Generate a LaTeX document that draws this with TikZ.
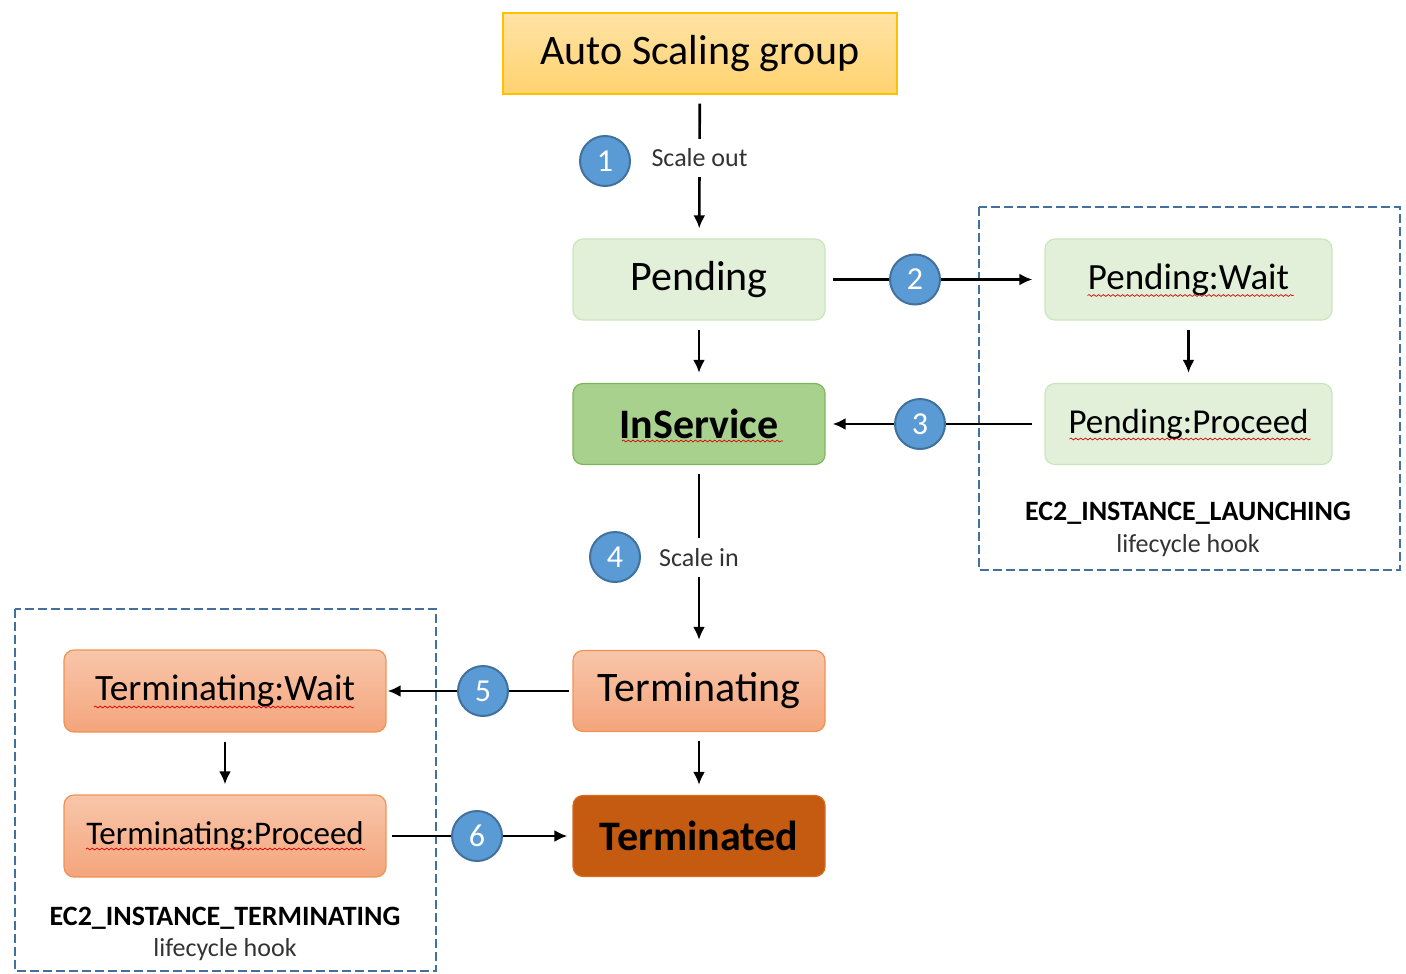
\documentclass[tikz,border=0pt]{standalone}
\usepackage{fontspec}
\setmainfont{Carlito}
\usetikzlibrary{arrows.meta,decorations.pathmorphing}

\definecolor{asgtop}{HTML}{FFE3A6}
\definecolor{asgbot}{HTML}{FFD26E}
\definecolor{asgline}{HTML}{FFC000}
\definecolor{launchfill}{HTML}{E2F0D9}
\definecolor{launchline}{HTML}{CBE4BA}
\definecolor{insfill}{HTML}{A9D18E}
\definecolor{insline}{HTML}{7DB55A}
\definecolor{termtop}{HTML}{F8C6AA}
\definecolor{termbot}{HTML}{F4A57C}
\definecolor{termline}{HTML}{F09253}
\definecolor{deadfill}{HTML}{C55A11}
\definecolor{deadline}{HTML}{DA6A1E}
\definecolor{numfill}{HTML}{5B9BD5}
\definecolor{numline}{HTML}{41719C}
\definecolor{hookline}{HTML}{41719C}

\tikzset{>={Latex[length=6.5pt,width=6pt]}}

\begin{document}
\begin{tikzpicture}[x=0.5pt,y=-0.5pt,
    state/.style={draw, rounded corners=5pt, line width=0.6pt, inner sep=0pt,
      minimum width=126pt, minimum height=40.5pt, font=\fontsize{21}{25}\selectfont},
    asgbox/.style={state, rounded corners=0pt, minimum width=197pt, draw=asgline,
      top color=asgtop, bottom color=asgbot},
    launch/.style={state, fill=launchfill, draw=launchline},
    inservice/.style={state, fill=insfill, draw=insline},
    leaving/.style={state, top color=termtop, bottom color=termbot, draw=termline},
    gone/.style={state, fill=deadfill, draw=deadline},
    hookstate/.style={minimum width=143.5pt},
    termhook/.style={minimum width=161pt, minimum height=41pt},
    flow/.style={->, line width=1.3pt, shorten >=5pt, shorten <=4.5pt},
    flowlabel/.style={fill=white, inner sep=5pt, text=black!80, font=\fontsize{13}{15}\selectfont},
    stepnum/.style={circle, fill=numfill, draw=numline, line width=1pt, minimum size=25pt,
      inner sep=0pt, text=white, font=\fontsize{16}{18}\selectfont},
    hookarea/.style={draw=hookline, line width=1.2pt, dash pattern=on 4.5pt off 2pt},
    hookname/.style={font=\bfseries\fontsize{14}{16}\selectfont},
    hooksub/.style={text=black!80, font=\fontsize{13}{15}\selectfont},
    squiggle/.style={draw=red!85!black, line width=0.35pt,
      decorate, decoration={snake, amplitude=0.45pt, segment length=2.4pt}}
  ]

  \useasboundingbox (0,0) rectangle (1406,973);

  % lifecycle hook areas
  \draw[hookarea] (979,207) rectangle (1400,570);
  \draw[hookarea] (15,609) rectangle (436,971);

  % states
  \node[asgbox] (asg) at (700,53.5) {Auto Scaling group};
  \node[launch] (pend) at (699,279.5) {Pending};
  \node[inservice] (ins) at (699,424) {\textbf{InService}};
  \node[launch, hookstate, font=\fontsize{18.5}{22}\selectfont] (pw) at (1188.5,279.5) {Pending:Wait};
  \node[launch, hookstate, font=\fontsize{17.5}{21}\selectfont] (pp) at (1188.5,424) {Pending:Proceed};
  \node[leaving] (term) at (699,691) {Terminating};
  \node[gone] (dead) at (699,836) {\textbf{Terminated}};
  \node[leaving, termhook, font=\fontsize{18.6}{22}\selectfont] (tw) at (225,691) {Terminating:Wait};
  \node[leaving, termhook, font=\fontsize{16.5}{20}\selectfont] (tp) at (225,836) {Terminating:Proceed};

  % transitions
  \draw[flow] (asg) -- node[flowlabel, pos=0.44] (out) {Scale out} (pend);
  \draw[flow] (pend) -- (ins);
  \draw[flow, shorten <=3.5pt, shorten >=6pt] (pend) -- (pw);
  \draw[flow] (pw) -- (pp);
  \draw[flow, shorten <=6pt, shorten >=3.5pt] (pp) -- (ins);
  \draw[flow] (ins) -- node[flowlabel] (in) {Scale in} (term);
  \draw[flow, shorten <=1.5pt, shorten >=0.5pt] (term) -- (tw);
  \draw[flow] (tw) -- (tp);
  \draw[flow, shorten <=2.5pt, shorten >=2.5pt] (tp) -- (dead);
  \draw[flow] (term) -- (dead);

  % step numbers
  \node[stepnum] (n1) at (605,161) {1};
  \node[stepnum] (n2) at (915,279.5) {2};
  \node[stepnum] (n3) at (920,424) {3};
  \node[stepnum] (n4) at (615,557) {4};
  \node[stepnum] (n5) at (483,691) {5};
  \node[stepnum] (n6) at (477,836) {6};

  % hook names
  \node[hookname] (lname) at (1188,513) {EC2\_INSTANCE\_LAUNCHING};
  \node[hooksub] (lsub) at (1188,546) {lifecycle hook};
  \node[hookname] (tname) at (225,918) {EC2\_INSTANCE\_TERMINATING};
  \node[hooksub] (tsub) at (225,950) {lifecycle hook};

  % spell check marks
  \draw[squiggle] ([shift={(-101,16)}]pw.center) -- ++(206,0);
  \draw[squiggle] ([shift={(-119,15)}]pp.center) -- ++(241,0);
  \draw[squiggle] ([shift={(-77,17)}]ins.center) -- ++(161,0);
  \draw[squiggle] ([shift={(-131,16)}]tw.center) -- ++(260,0);
  \draw[squiggle] ([shift={(-139,13)}]tp.center) -- ++(279,0);

\end{tikzpicture}
\end{document}
